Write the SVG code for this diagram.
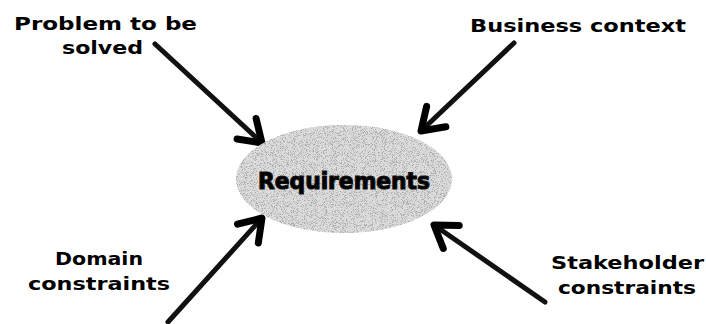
<svg xmlns="http://www.w3.org/2000/svg" width="706" height="324" viewBox="0 0 706 324">
<style>
.lbl{font-family:"DejaVu Sans","Liberation Sans",sans-serif;font-weight:bold;font-size:18px;fill:#000}
.arr{stroke:#111;stroke-width:5;fill:none;stroke-linecap:round}
.req{font-family:"DejaVu Sans","Liberation Sans",sans-serif;font-weight:900;font-size:23px;fill:#000}
</style>
<defs>
<marker id="ah" markerUnits="userSpaceOnUse" markerWidth="40" markerHeight="40" viewBox="-30 -20 40 40" refX="0" refY="0" orient="auto">
<path d="M-21,-14 L0,0 L-21,14" fill="none" stroke="#000" stroke-width="7" stroke-linecap="round" stroke-linejoin="round"/>
</marker>
<filter id="stip" x="0" y="0" width="100%" height="100%">
<feTurbulence type="fractalNoise" baseFrequency="1.1" numOctaves="2" seed="7" result="n"/>
<feColorMatrix in="n" type="matrix" values="0 0 0 0 0.4  0 0 0 0 0.4  0 0 0 0 0.4  7 0 0 0 -3.6" result="dots"/>
<feComposite in="dots" in2="SourceGraphic" operator="in" result="d2"/>
<feMerge><feMergeNode in="SourceGraphic"/><feMergeNode in="d2"/></feMerge>
</filter>
</defs>
<g id="connectors">
<line class="arr" x1="155" y1="44" x2="262" y2="143" marker-end="url(#ah)"/>
<line class="arr" x1="514" y1="43" x2="421" y2="131" marker-end="url(#ah)"/>
<line class="arr" x1="168" y1="322" x2="262" y2="218" marker-end="url(#ah)"/>
<line class="arr" x1="545" y1="302" x2="434" y2="225" marker-end="url(#ah)"/>
</g>
<g id="requirements">
<ellipse cx="344" cy="179" rx="108" ry="54" fill="#dcdcdc" filter="url(#stip)"/>
<text class="req" x="344" y="189" text-anchor="middle" textLength="172" lengthAdjust="spacingAndGlyphs" stroke="#111" stroke-width="1.2">Requirements</text>
</g>
<g id="problem">
<text class="lbl" x="14" y="30" textLength="183" lengthAdjust="spacingAndGlyphs">Problem to be</text>
<text class="lbl" x="62" y="54" textLength="81" lengthAdjust="spacingAndGlyphs">solved</text>
</g>
<g id="business">
<text class="lbl" x="470" y="32" textLength="216" lengthAdjust="spacingAndGlyphs">Business context</text>
</g>
<g id="domain">
<text class="lbl" x="55" y="265" textLength="88" lengthAdjust="spacingAndGlyphs">Domain</text>
<text class="lbl" x="28" y="290" textLength="142" lengthAdjust="spacingAndGlyphs">constraints</text>
</g>
<g id="stakeholder">
<text class="lbl" x="551" y="269" textLength="153" lengthAdjust="spacingAndGlyphs">Stakeholder</text>
<text class="lbl" x="558" y="294" textLength="138" lengthAdjust="spacingAndGlyphs">constraints</text>
</g>
</svg>
